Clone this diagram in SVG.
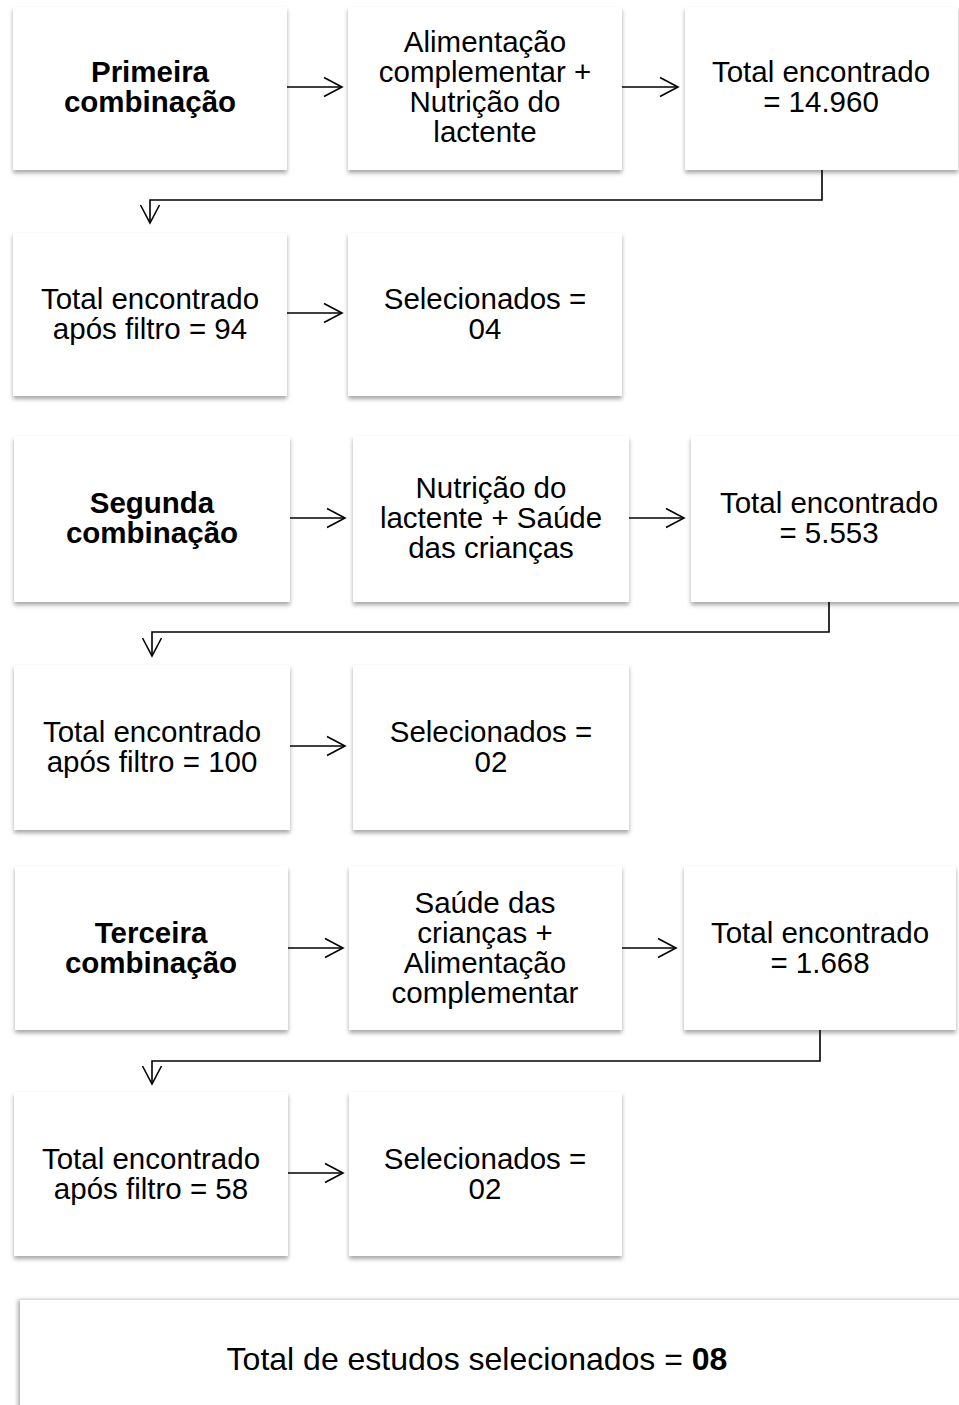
<svg xmlns="http://www.w3.org/2000/svg" width="959" height="1405" viewBox="0 0 959 1405">
<defs>
<filter id="sh" x="-10%" y="-10%" width="120%" height="130%">
<feDropShadow dx="0" dy="3" stdDeviation="2" flood-color="#000" flood-opacity="0.35"/>
</filter>
<filter id="shl" x="-10%" y="-10%" width="120%" height="130%">
<feDropShadow dx="-2" dy="0" stdDeviation="2" flood-color="#000" flood-opacity="0.35"/>
</filter>
<marker id="ah" markerUnits="userSpaceOnUse" markerWidth="22" markerHeight="24" refX="18" refY="10" orient="auto" viewBox="-1 -1 22 24">
<path d="M0,0.5 L18,10 L0,19.5" fill="none" stroke="#000" stroke-width="1.6"/>
</marker>
</defs>
<style>
.box{fill:#fff;filter:url(#sh)}
text{font-family:"Liberation Sans",Arial,sans-serif;font-size:29.5px;fill:#000;text-anchor:middle}
.b{font-weight:bold}
.ar{fill:none;stroke:#000;stroke-width:1.6;marker-end:url(#ah)}
</style>
<rect width="959" height="1405" fill="#fff"/>

<g id="connectors">
<path class="ar" d="M287,87 H342"/>
<path class="ar" d="M622,87 H678"/>
<path class="ar" d="M822,170 V200 H150 V223"/>
<path class="ar" d="M287,313 H342"/>
<path class="ar" d="M290,518 H345"/>
<path class="ar" d="M629,518 H684"/>
<path class="ar" d="M829,602 V632 H152 V656"/>
<path class="ar" d="M290,746 H345"/>
<path class="ar" d="M288,948 H343"/>
<path class="ar" d="M622,948 H676"/>
<path class="ar" d="M820,1030 V1061 H152 V1084"/>
<path class="ar" d="M288,1173 H343"/>
</g>

<g id="n1"><rect class="box" x="13" y="7" width="274" height="163"/>
<text class="b" x="150" y="81.5">Primeira</text><text class="b" x="150" y="111.5">combinação</text></g>
<g id="n2"><rect class="box" x="348" y="7" width="274" height="163"/>
<text x="485" y="51.5">Alimentação</text><text x="485" y="81.5">complementar +</text><text x="485" y="111.5">Nutrição do</text><text x="485" y="141.5">lactente</text></g>
<g id="n3"><rect class="box" x="685" y="7" width="273" height="163"/>
<text x="821" y="81.5">Total encontrado</text><text x="821" y="111.5">= 14.960</text></g>

<g id="n4"><rect class="box" x="13" y="233" width="274" height="163"/>
<text x="150" y="308.5">Total encontrado</text><text x="150" y="338.5">após filtro = 94</text></g>
<g id="n5"><rect class="box" x="348" y="233" width="274" height="163"/>
<text x="485" y="308.5">Selecionados =</text><text x="485" y="338.5">04</text></g>

<g id="n6"><rect class="box" x="14" y="436" width="276" height="166"/>
<text class="b" x="152" y="512.5">Segunda</text><text class="b" x="152" y="542.5">combinação</text></g>
<g id="n7"><rect class="box" x="353" y="436" width="276" height="166"/>
<text x="491" y="497.5">Nutrição do</text><text x="491" y="527.5">lactente + Saúde</text><text x="491" y="557.5">das crianças</text></g>
<g id="n8"><rect class="box" x="691" y="436" width="270" height="166"/>
<text x="829" y="512.5">Total encontrado</text><text x="829" y="542.5">= 5.553</text></g>

<g id="n9"><rect class="box" x="14" y="665" width="276" height="165"/>
<text x="152" y="741.5">Total encontrado</text><text x="152" y="771.5">após filtro = 100</text></g>
<g id="n10"><rect class="box" x="353" y="665" width="276" height="165"/>
<text x="491" y="741.5">Selecionados =</text><text x="491" y="771.5">02</text></g>

<g id="n11"><rect class="box" x="15" y="866" width="273" height="164"/>
<text class="b" x="151" y="942.5">Terceira</text><text class="b" x="151" y="972.5">combinação</text></g>
<g id="n12"><rect class="box" x="349" y="866" width="273" height="164"/>
<text x="485" y="912.5">Saúde das</text><text x="485" y="942.5">crianças +</text><text x="485" y="972.5">Alimentação</text><text x="485" y="1002.5">complementar</text></g>
<g id="n13"><rect class="box" x="684" y="866" width="272" height="164"/>
<text x="820" y="942.5">Total encontrado</text><text x="820" y="972.5">= 1.668</text></g>

<g id="n14"><rect class="box" x="14" y="1092" width="274" height="164"/>
<text x="151" y="1168.5">Total encontrado</text><text x="151" y="1198.5">após filtro = 58</text></g>
<g id="n15"><rect class="box" x="349" y="1092" width="273" height="164"/>
<text x="485" y="1168.5">Selecionados =</text><text x="485" y="1198.5">02</text></g>

<g id="n16"><rect x="20" y="1300" width="960" height="200" fill="#fff" filter="url(#shl)"/>
<text x="477" y="1370" style="font-size:32px">Total de estudos selecionados = <tspan class="b">08</tspan></text></g>
</svg>
